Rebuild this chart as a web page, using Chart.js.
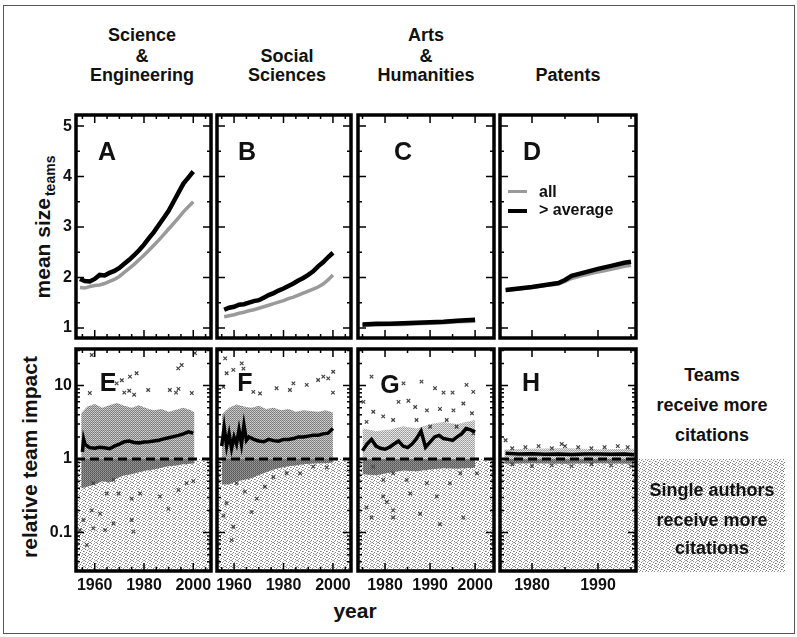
<!DOCTYPE html>
<html>
<head>
<meta charset="utf-8">
<script src="https://cdn.jsdelivr.net/npm/chart.js@4/dist/chart.umd.min.js"></script>
<style>
  body { margin: 0; background: #fff; }
  #fig { position: relative; width: 797px; height: 637px; overflow: hidden; background: #fff;
         font-family: 'Liberation Sans', Arial, sans-serif; color: #111; }
  #fig canvas { position: absolute; }
  .t { position: absolute; transform: translate(-50%, -50%); font-weight: bold; font-size: 18px;
       white-space: nowrap; line-height: 1; }
  .big { font-size: 25px; }
  .ax { font-size: 21px; }
  .rot { transform: translate(-50%, -50%) rotate(-90deg); }
  .rot sub { font-size: 14px; vertical-align: -5px; margin-left: 2px; }
  .lg { position: absolute; font-weight: bold; font-size: 16px; transform: translateY(-50%); line-height: 1; }
  .sw { position: absolute; width: 19px; }
  #frame { position: absolute; left: 3px; top: 5px; width: 790px; height: 627px; border: 1px solid #555; }
</style>
</head>
<body>
<div id="fig">
  <div id="frame"></div>

  <div class="t" style="left:142px;top:35px">Science</div>
  <div class="t" style="left:142px;top:56px">&amp;</div>
  <div class="t" style="left:142px;top:75px">Engineering</div>
  <div class="t" style="left:287px;top:56px">Social</div>
  <div class="t" style="left:287px;top:75px">Sciences</div>
  <div class="t" style="left:426px;top:35px">Arts</div>
  <div class="t" style="left:426px;top:56px">&amp;</div>
  <div class="t" style="left:426px;top:75px">Humanities</div>
  <div class="t" style="left:568px;top:75px">Patents</div>

  <div class="t ax rot" style="left:44px;top:227px">mean size<sub>teams</sub></div>
  <div class="t ax rot" style="left:29px;top:457px">relative team impact</div>
  <div class="t ax" style="left:355px;top:610px">year</div>

  <canvas id="side" width="147" height="113" style="left:638px;top:459px"></canvas>
  <div class="t" style="left:712px;top:375px">Teams</div>
  <div class="t" style="left:712px;top:405px">receive more</div>
  <div class="t" style="left:712px;top:435px">citations</div>
  <div class="t" style="left:712px;top:490px">Single authors</div>
  <div class="t" style="left:712px;top:520px">receive more</div>
  <div class="t" style="left:712px;top:548px">citations</div>
</div>

<script>
// ---- top row: mean team size, "all" vs "> average" ----
const yearsA = [1954, 1956, 1958, 1960, 1962, 1964, 1966, 1968, 1970, 1972, 1974, 1976, 1978, 1980, 1982, 1984, 1986, 1988, 1990, 1992, 1994, 1996, 1998, 2000];
const aboveA = [1.97, 1.93, 1.92, 1.97, 2.05, 2.04, 2.09, 2.13, 2.19, 2.27, 2.35, 2.44, 2.54, 2.65, 2.78, 2.9, 3.04, 3.18, 3.32, 3.5, 3.68, 3.86, 3.98, 4.1];
const allA = [1.8, 1.79, 1.82, 1.84, 1.85, 1.88, 1.92, 1.96, 2.02, 2.1, 2.18, 2.26, 2.35, 2.44, 2.54, 2.64, 2.74, 2.85, 2.96, 3.07, 3.18, 3.3, 3.4, 3.5];

const yearsB = [1956, 1958, 1960, 1962, 1964, 1966, 1968, 1970, 1972, 1974, 1976, 1978, 1980, 1982, 1984, 1986, 1988, 1990, 1992, 1994, 1996, 1998, 2000];
const aboveB = [1.36, 1.4, 1.42, 1.46, 1.47, 1.5, 1.53, 1.55, 1.6, 1.65, 1.69, 1.74, 1.78, 1.83, 1.88, 1.94, 1.99, 2.05, 2.12, 2.22, 2.3, 2.4, 2.49];
const allB = [1.22, 1.24, 1.26, 1.29, 1.31, 1.34, 1.36, 1.39, 1.42, 1.45, 1.48, 1.51, 1.54, 1.58, 1.61, 1.65, 1.69, 1.73, 1.77, 1.81, 1.87, 1.95, 2.05];

const yearsC = [1975, 1978, 1981, 1984, 1987, 1990, 1993, 1996, 2000];
const aboveC = [1.07, 1.08, 1.08, 1.09, 1.1, 1.11, 1.12, 1.14, 1.16];
const allC = [1.05, 1.06, 1.07, 1.07, 1.08, 1.09, 1.1, 1.12, 1.13];

const yearsD = [1976, 1978, 1980, 1982, 1984, 1985, 1986, 1988, 1990, 1992, 1994, 1995];
const aboveD = [1.75, 1.78, 1.81, 1.85, 1.89, 1.95, 2.03, 2.1, 2.17, 2.23, 2.29, 2.31];
const allD = [1.74, 1.77, 1.8, 1.84, 1.87, 1.92, 1.98, 2.05, 2.11, 2.16, 2.22, 2.24];

// ---- bottom row: relative team impact ----
const yearsE = [1955, 1955.5, 1956, 1957, 1958, 1960, 1962, 1964, 1966, 1968, 1970, 1972, 1974, 1976, 1978, 1980, 1982, 1984, 1986, 1988, 1990, 1992, 1994, 1996, 1998, 2000];
const meanE = [1.25, 1.85, 1.6, 1.5, 1.43, 1.4, 1.45, 1.42, 1.38, 1.5, 1.6, 1.72, 1.76, 1.68, 1.66, 1.7, 1.72, 1.76, 1.8, 1.88, 1.95, 2.02, 2.1, 2.2, 2.35, 2.25];
const bandYearsE = [1954.5, 1957, 1960, 1963, 1966, 1969, 1972, 1975, 1978, 1981, 1984, 1987, 1990, 1993, 1996, 1999, 2000.5];
const highE = [4.2, 5.2, 5.6, 5.0, 5.4, 5.8, 5.3, 5.0, 5.4, 4.9, 4.6, 4.8, 4.4, 4.7, 5.0, 4.6, 4.3];
const lowE = [0.4, 0.42, 0.45, 0.5, 0.48, 0.55, 0.6, 0.62, 0.66, 0.7, 0.72, 0.76, 0.8, 0.82, 0.85, 0.86, 0.88];
const dotYearsE = [1958.8, 1968.9, 1971, 1974.3, 1977, 1993.9, 1995.3, 1990.5, 1981.7, 1958, 1999.4, 2000.7, 1972, 1974, 1976, 1993, 1994,
  1959.4, 1964.9, 1967.6, 1969.7, 1975, 1978.4, 1986.5, 1989.9, 1994, 1997.3, 2000, 1975, 1967.6, 1959.4, 1956.8, 1964.2, 1955.4, 1958.8, 1962.2, 1975.7, 1954];
const dotValuesE = [26, 10.7, 11.8, 13.2, 14.7, 17.1, 19, 8.7, 8.7, 7.9, 7.9, 27.6, 8, 8.5, 7.5, 8, 9,
  0.47, 0.34, 0.52, 0.34, 0.29, 0.34, 0.31, 0.21, 0.38, 0.47, 0.5, 0.148, 0.133, 0.114, 0.068, 0.108, 0.148, 0.2, 0.18, 0.103, 0.108];

const yearsF = [1955, 1956, 1957, 1958, 1959, 1960, 1961, 1962, 1963, 1964, 1965, 1966, 1968, 1970, 1972, 1974, 1976, 1978, 1980, 1982, 1984, 1986, 1988, 1990, 1992, 1994, 1996, 1998, 2000];
const meanF = [1.5, 2.7, 1.5, 2.2, 1.4, 2.0, 1.6, 2.5, 1.6, 2.9, 1.8, 2.0, 1.85, 1.76, 1.72, 1.85, 1.78, 1.75, 1.85, 1.85, 1.9, 2.0, 2.0, 2.05, 2.1, 2.1, 2.2, 2.25, 2.6];
const bandYearsF = [1955, 1958, 1961, 1964, 1967, 1970, 1973, 1976, 1979, 1982, 1985, 1988, 1991, 1994, 1997, 2000];
const highF = [4.0, 5.0, 5.5, 5.2, 5.0, 5.3, 4.8, 5.0, 4.6, 4.8, 4.4, 4.6, 4.5, 4.4, 4.6, 4.3];
const lowF = [0.45, 0.45, 0.5, 0.52, 0.55, 0.6, 0.66, 0.72, 0.76, 0.8, 0.82, 0.85, 0.86, 0.88, 0.88, 0.9];
const dotYearsF = [1956.4, 1963.1, 1963.8, 1959.7, 1957, 1996.1, 1998.1, 1994, 2000.1, 1984, 1989.4, 1977.2, 1982.6, 1970.5, 1967.8, 2000, 1955.7,
  1955.7, 1957, 1959.7, 1959, 1964.4, 1967.1, 1969.2, 1972.5, 1975.9, 1981.3, 1986.7, 1992, 1997.5, 1961];
const dotValuesF = [23.4, 20, 17, 16.3, 14.7, 13.2, 12.5, 11.9, 15.4, 10.7, 10.2, 9.2, 8.7, 7.8, 8.2, 8, 9.6,
  0.17, 0.25, 0.12, 0.079, 0.36, 0.19, 0.29, 0.42, 0.57, 0.64, 0.64, 0.79, 0.77, 0.47];

const yearsG = [1975, 1976, 1977, 1978, 1979, 1980, 1981, 1982, 1983, 1984, 1985, 1986, 1987, 1988, 1989, 1990, 1991, 1992, 1993, 1994, 1995, 1996, 1997, 1998, 1999, 2000];
const meanG = [1.3, 1.6, 1.85, 1.5, 1.4, 1.36, 1.45, 1.6, 1.76, 1.5, 1.43, 1.6, 1.9, 2.4, 1.45, 1.7, 2.0, 2.1, 1.9, 1.85, 1.8, 2.0, 2.2, 2.6, 2.5, 2.35];
const bandYearsG = [1975, 1978, 1981, 1984, 1987, 1990, 1993, 1996, 2000];
const highG = [2.6, 2.4, 2.5, 2.8, 2.6, 3.0, 3.2, 3.0, 3.4];
const lowG = [0.62, 0.6, 0.65, 0.7, 0.68, 0.72, 0.75, 0.74, 0.76];
const dotYearsG = [1988.1, 1977, 1984.1, 1991.1, 1993, 1995, 1998.1, 1999.6, 1983, 1985.2, 1986.7, 1989.3, 1992.2, 1995.2, 1997.4, 1977.4, 1979.6, 1981.8, 1975.2, 1975.9, 1987, 1993.7, 1999.3, 1990, 1995.9, 1999.6,
  1977.4, 1979.6, 1981.8, 1979.6, 1980.4, 1975.9, 1981.8, 1977, 1981.8, 1987.8, 1992.2, 1989.3, 1994.4, 1996.7, 2000.4, 1985.6, 1991.5, 1984.8, 1997.4];
const dotValuesG = [11.3, 13.2, 10.7, 9.2, 8, 8, 10.2, 8.2, 6, 6.2, 5.1, 4.6, 4.8, 4.6, 5.7, 4.4, 3.8, 3.4, 6, 3.2, 3.4, 3.4, 4.2, 2.75, 2.75, 2.24,
  0.79, 0.52, 0.64, 0.31, 0.26, 0.22, 0.2, 0.16, 0.16, 0.18, 0.13, 0.47, 0.47, 0.64, 0.64, 0.34, 0.31, 0.52, 0.16];

const yearsH = [1976, 1978, 1980, 1982, 1984, 1986, 1988, 1990, 1992, 1994, 1995.5];
const meanH = [1.2, 1.17, 1.18, 1.16, 1.17, 1.15, 1.17, 1.17, 1.16, 1.17, 1.14];
const bandYearsH = [1975.8, 1980, 1985, 1990, 1995.5];
const highH = [1.35, 1.38, 1.4, 1.36, 1.38];
const lowH = [0.86, 0.88, 0.86, 0.88, 0.86];
const dotYearsH = [1976, 1977, 1979, 1981, 1983, 1984.5, 1985, 1987, 1989, 1991, 1993, 1994.5, 1977, 1980, 1983, 1986, 1989, 1992, 1995];
const dotValuesH = [1.8, 1.4, 1.45, 1.5, 1.4, 1.6, 1.5, 1.45, 1.4, 1.45, 1.5, 1.45, 0.85, 0.8, 0.82, 0.8, 0.85, 0.82, 0.8];

// ---- axes ----
const xRangeA = [1952.4, 2007.2];
const xRangeB = [1953.1, 2007.3];
const xRangeC = [1974, 2004.2];
const xRangeD = [1975.15, 1995.76];
const sizeRange = [0.8, 5.22];
const impactRange = [0.03, 31.4];
const sizeTicks = [1, 2, 3, 4, 5];
const sizeMinor = [1.5, 2.5, 3.5, 4.5];
const impactTicks = [0.1, 1, 10];
const impactMinor = [0.04, 0.05, 0.06, 0.07, 0.08, 0.09, 0.2, 0.3, 0.4, 0.5, 0.6, 0.7, 0.8, 0.9, 2, 3, 4, 5, 6, 7, 8, 9, 20, 30];
const yearTicksAB = [1960, 1980, 2000];
const yearMinorAB = [1955, 1965, 1970, 1975, 1985, 1990, 1995, 2005];
const yearTicksC = [1980, 1990, 2000];
const yearMinorC = [1975, 1985, 1995];
const yearTicksD = [1980, 1990];
const yearMinorD = [1975, 1985, 1995];

Chart.defaults.font.family = "'Liberation Sans', Arial, sans-serif";
Chart.defaults.font.weight = 'bold';
Chart.defaults.color = '#111';

const M = 4;
const cols = [[76, 211], [217, 351], [358, 494], [500, 636]];
const rows = [[115, 338], [349, 571]];

function pts(xs, ys) {
  return xs.map((x, i) => ({ x, y: ys[i] }));
}

function makePattern(ctx, grid) {
  const c = document.createElement('canvas');
  c.width = grid[0].length;
  c.height = grid.length;
  const g = c.getContext('2d');
  grid.forEach((row, j) => row.forEach((col, i) => {
    g.fillStyle = col;
    g.fillRect(i, j, 1, 1);
  }));
  return ctx.createPattern(c, 'repeat');
}

const W = '#fff';
const STIPPLE = [
  [W, '#777', W, W, '#aaa', W],
  [W, W, W, '#888', W, W],
  ['#aaa', W, W, W, W, '#777'],
  [W, W, '#777', W, W, W],
  [W, '#aaa', W, W, '#888', W],
  ['#888', W, W, W, W, '#aaa'],
];
const HALFTONE_HI = [['#888', '#d4d4d4'], ['#bcbcbc', '#777']];
const HALFTONE_LO = [['#555', '#999'], ['#888', '#666']];
const HALFTONE_LIGHT = [['#aaa', '#eee'], ['#ddd', '#999']];

const framePlugin = {
  id: 'frame',
  beforeDatasetsDraw(chart, args, o) {
    if (!o.stipple) return;
    const { ctx, chartArea: a, scales: { y } } = chart;
    const y1 = y.getPixelForValue(1);
    ctx.save();
    ctx.fillStyle = makePattern(ctx, STIPPLE);
    ctx.fillRect(a.left, y1, a.right - a.left, a.bottom - y1);
    ctx.restore();
  },
  afterDraw(chart, args, o) {
    const { ctx, chartArea: a, scales: { x, y } } = chart;
    ctx.save();
    ctx.strokeStyle = '#000';
    ctx.lineWidth = 1.5;
    ctx.beginPath();
    [[o.xMajor, 8], [o.xMinor, 4]].forEach(([vals, len]) => vals.forEach((v) => {
      const px = x.getPixelForValue(v);
      if (px < a.left || px > a.right) return;
      ctx.moveTo(px, a.top); ctx.lineTo(px, a.top + len);
      ctx.moveTo(px, a.bottom); ctx.lineTo(px, a.bottom - len);
    }));
    [[o.yMajor, 8], [o.yMinor, 4]].forEach(([vals, len]) => vals.forEach((v) => {
      const py = y.getPixelForValue(v);
      if (py < a.top || py > a.bottom) return;
      ctx.moveTo(a.left, py); ctx.lineTo(a.left + len, py);
      ctx.moveTo(a.right, py); ctx.lineTo(a.right - len, py);
    }));
    ctx.stroke();
    ctx.lineWidth = 3.5;
    ctx.strokeRect(a.left, a.top, a.right - a.left, a.bottom - a.top);
    ctx.restore();
  },
};

function panel(cfg) {
  const [l, r] = cols[cfg.col];
  const [t, b] = rows[cfg.row];
  const L = cfg.yLabels ? 46 : M;
  const B = cfg.xLabels ? 30 : M;
  const canvas = document.createElement('canvas');
  canvas.width = r - l + L + M;
  canvas.height = b - t + M + B;
  canvas.style.left = (l - L) + 'px';
  canvas.style.top = (t - M) + 'px';
  document.getElementById('fig').appendChild(canvas);
  const ctx = canvas.getContext('2d');

  new Chart(ctx, {
    type: 'line',
    data: { datasets: cfg.datasets(ctx) },
    options: {
      responsive: false,
      animation: false,
      devicePixelRatio: 1,
      layout: { padding: { top: M, right: M, left: 0, bottom: 0 }, autoPadding: false },
      plugins: {
        legend: { display: false },
        tooltip: { enabled: false },
        frame: {
          xMajor: cfg.xTicks, xMinor: cfg.xMinor,
          yMajor: cfg.yTicks, yMinor: cfg.yMinor,
          stipple: cfg.row === 1,
        },
      },
      scales: {
        x: {
          type: 'linear',
          min: cfg.xRange[0],
          max: cfg.xRange[1],
          grid: { display: false, drawTicks: false },
          border: { display: false },
          ticks: {
            display: cfg.xLabels, autoSkip: false, maxRotation: 0, minRotation: 0,
            padding: 5, color: '#111', font: { size: 16, weight: 'bold' },
            callback: (v) => String(v),
          },
          afterBuildTicks: (s) => { s.ticks = cfg.xTicks.map((v) => ({ value: v })); },
          afterFit: (s) => { s.height = B; s.paddingLeft = 0; s.paddingRight = 0; },
        },
        y: {
          type: cfg.row === 1 ? 'logarithmic' : 'linear',
          min: cfg.yRange[0],
          max: cfg.yRange[1],
          grid: { display: false, drawTicks: false },
          border: { display: false },
          ticks: {
            display: cfg.yLabels, padding: 4, color: '#111', font: { size: 16, weight: 'bold' },
            callback: (v) => String(v),
          },
          afterBuildTicks: (s) => { s.ticks = cfg.yTicks.map((v) => ({ value: v })); },
          afterFit: (s) => { s.width = L; s.paddingTop = 0; s.paddingBottom = 0; },
        },
      },
    },
    plugins: [framePlugin],
  });
}

function sizeSets(years, all, above) {
  return () => [
    { data: pts(years, above), borderColor: '#000', borderWidth: 4.5, pointRadius: 0, order: 0 },
    { data: pts(years, all), borderColor: '#9a9a9a', borderWidth: 3.5, pointRadius: 0, order: 1 },
  ];
}

function impactSets(years, mean, bandYears, high, low, dotYears, dotValues, xRange, light) {
  return (ctx) => [
    { data: pts(years, mean), borderColor: '#000', borderWidth: 3.5, pointRadius: 0, order: 0 },
    { data: pts(xRange, [1, 1]), borderColor: '#000', borderWidth: 3, borderDash: [9, 5], pointRadius: 0, order: 1 },
    { data: pts(dotYears, dotValues), showLine: false, pointStyle: 'crossRot', pointRadius: 2.5,
      borderColor: '#444', borderWidth: 1.2, order: 2 },
    { data: pts(bandYears, high), fill: { value: 1 }, borderWidth: 0, pointRadius: 0, order: 3,
      backgroundColor: makePattern(ctx, light ? HALFTONE_LIGHT : HALFTONE_HI) },
    { data: pts(bandYears, low), fill: { value: 1 }, borderWidth: 0, pointRadius: 0, order: 4,
      backgroundColor: makePattern(ctx, HALFTONE_LO) },
  ];
}

const xCfg = [
  { xRange: xRangeA, xTicks: yearTicksAB, xMinor: yearMinorAB },
  { xRange: xRangeB, xTicks: yearTicksAB, xMinor: yearMinorAB },
  { xRange: xRangeC, xTicks: yearTicksC, xMinor: yearMinorC },
  { xRange: xRangeD, xTicks: yearTicksD, xMinor: yearMinorD },
];

const topSets = [
  sizeSets(yearsA, allA, aboveA),
  sizeSets(yearsB, allB, aboveB),
  sizeSets(yearsC, allC, aboveC),
  sizeSets(yearsD, allD, aboveD),
];
const bottomSets = [
  impactSets(yearsE, meanE, bandYearsE, highE, lowE, dotYearsE, dotValuesE, xRangeA, false),
  impactSets(yearsF, meanF, bandYearsF, highF, lowF, dotYearsF, dotValuesF, xRangeB, false),
  impactSets(yearsG, meanG, bandYearsG, highG, lowG, dotYearsG, dotValuesG, xRangeC, true),
  impactSets(yearsH, meanH, bandYearsH, highH, lowH, dotYearsH, dotValuesH, xRangeD, true),
];

for (let c = 0; c < 4; c++) {
  panel({ ...xCfg[c], col: c, row: 0, yRange: sizeRange, yTicks: sizeTicks, yMinor: sizeMinor,
    xLabels: false, yLabels: c === 0, datasets: topSets[c] });
  panel({ ...xCfg[c], col: c, row: 1, yRange: impactRange, yTicks: impactTicks, yMinor: impactMinor,
    xLabels: true, yLabels: c === 0, datasets: bottomSets[c] });
}

// stippled "single authors" strip on the right
const side = document.getElementById('side').getContext('2d');
side.fillStyle = makePattern(side, STIPPLE);
side.fillRect(0, 0, 147, 113);

// panel letters and legend go on top of the canvases
const fig = document.getElementById('fig');
[['A', 107, 151], ['B', 247, 151], ['C', 403, 151], ['D', 532, 151],
 ['E', 108, 382], ['F', 245, 382], ['G', 390, 384], ['H', 531, 382]].forEach(([s, x, y]) => {
  const d = document.createElement('div');
  d.className = 't big';
  d.style.left = x + 'px';
  d.style.top = y + 'px';
  d.textContent = s;
  fig.appendChild(d);
});
fig.insertAdjacentHTML('beforeend',
  '<div class="sw" style="left:508px;top:190px;height:3px;background:#9a9a9a"></div>' +
  '<div class="sw" style="left:508px;top:209px;height:4px;background:#000"></div>' +
  '<div class="lg" style="left:539px;top:192px">all</div>' +
  '<div class="lg" style="left:539px;top:210px">&gt; average</div>');
</script>
</body>
</html>
